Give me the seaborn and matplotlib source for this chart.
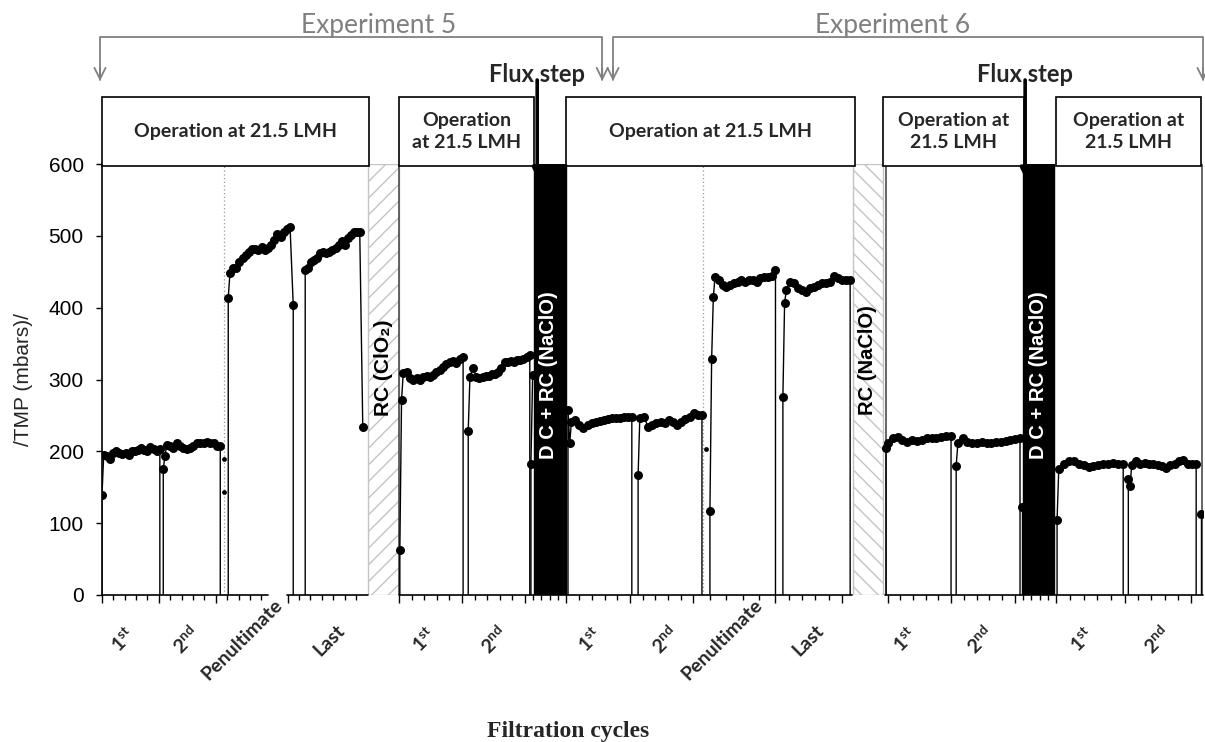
import numpy as np
import pandas as pd
import seaborn as sns
import matplotlib
matplotlib.use("Agg")
import matplotlib.pyplot as plt
from matplotlib.patches import Rectangle
import matplotlib.transforms as mtransforms

# ---------------- TMP readings (mbar) for each filtration cycle ----------------
# 0 = pump stopped (start / end of a cycle)
E5_C1 = [0, 139, 195, 193, 190, 197, 200, 197, 196, 198, 195, 200, 201, 202, 204, 202, 200, 206, 203, 200, 203, 0]
E5_C2 = [0, 176, 193, 209, 207, 204, 211, 207, 204, 203, 204, 207, 211, 212, 211, 213, 212, 211, 207, 207, 0]
E5_PEN = [0, 414, 448, 455, 455, 464, 469, 473, 478, 481, 481, 480, 485, 480, 483, 487, 494, 503, 499, 506, 510, 512, 404, 0]
E5_LAST = [0, 452, 455, 464, 466, 469, 476, 478, 476, 478, 480, 483, 487, 493, 487, 497, 501, 506, 506, 506, 234]
E5_C1B = [0, 63, 271, 309, 311, 302, 300, 302, 300, 304, 305, 303, 306, 310, 313, 318, 322, 325, 326, 323, 328, 331, 0]
E5_C2B = [0, 229, 304, 316, 304, 302, 304, 305, 305, 308, 308, 311, 316, 325, 325, 326, 325, 327, 327, 329, 331, 334, 0]
E5_STEP = [0, 183, 306]
E6_C1 = [0, 258, 211, 241, 244, 237, 232, 237, 239, 241, 242, 244, 245, 246, 246, 247, 248, 248, 248, 0]
E6_C2 = [0, 167, 246, 248, 234, 237, 239, 241, 240, 243, 241, 237, 241, 245, 248, 253, 251, 250, 0]
E6_PEN = [0, 117, 328, 415, 443, 439, 432, 429, 432, 434, 436, 439, 436, 439, 439, 436, 441, 443, 443, 444, 453, 0]
E6_LAST = [0, 276, 406, 425, 436, 434, 427, 425, 422, 427, 429, 432, 434, 434, 436, 444, 441, 439, 439, 439, 0]
E6_C1B = [0, 204, 211, 218, 220, 216, 213, 216, 215, 216, 218, 219, 219, 220, 221, 222, 0]
E6_C2B = [0, 180, 211, 219, 213, 211, 212, 213, 212, 212, 213, 213, 215, 216, 217, 219, 0]
E6_STEP = [0, 123]
E6_C1C = [0, 105, 176, 183, 186, 186, 183, 181, 178, 179, 181, 182, 183, 184, 182, 182, 0]
E6_C2C = [0, 161, 152, 181, 186, 183, 184, 183, 182, 181, 179, 177, 181, 182, 186, 188, 183, 182, 182, 0]
E6_END = [0, 113]

# isolated readings logged at the cycle changeover (dotted lines)
CHANGE_T = [21.5, 21.5, 106.0]
CHANGE_TMP = [190, 143, 203]

# cycle windows: (readings, start min, end min, start-up samples)
CYCLES = [
    (E5_C1, 0.05, 10.2, 1), (E5_C2, 10.8, 20.8, 2), (E5_PEN, 22.2, 33.6, 1),
    (E5_LAST, 35.7, 45.8, 0), (E5_C1B, 52.3, 63.4, 2), (E5_C2B, 64.3, 75.1, 1),
    (E5_STEP, 75.3, 75.8, 2), (E6_C1, 81.8, 93.0, 2), (E6_C2, 94.1, 105.3, 1),
    (E6_PEN, 106.7, 118.2, 3), (E6_LAST, 119.5, 131.3, 2), (E6_C1B, 137.6, 149.0, 1),
    (E6_C2B, 149.9, 161.1, 1), (E6_STEP, 161.5, 161.6, 1), (E6_C1C, 167.6, 179.2, 1),
    (E6_C2C, 180.1, 192.0, 2), (E6_END, 192.8, 193.0, 1),
]

# x-axis category labels
TICK_LABELS = [r"1$^{\mathbf{st}}$", r"2$^{\mathbf{nd}}$", "Penultimate", "Last",
               r"1$^{\mathbf{st}}$", r"2$^{\mathbf{nd}}$",
               r"1$^{\mathbf{st}}$", r"2$^{\mathbf{nd}}$", "Penultimate", "Last",
               r"1$^{\mathbf{st}}$", r"2$^{\mathbf{nd}}$",
               r"1$^{\mathbf{st}}$", r"2$^{\mathbf{nd}}$"]
TICK_LABEL_T = [3.8, 14.8, 24.6, 39.9, 56.6, 68.8, 85.7, 98.8, 108.8, 123.9, 140.9, 154.1, 172.0, 185.1]

# ---------------- build long table ----------------
rows = []
for cid, (vals, t0, t1, n_start) in enumerate(CYCLES):
    vals = list(vals)
    lead = vals[0] == 0
    trail = len(vals) > 1 and vals[-1] == 0
    body = vals[int(lead):len(vals) - int(trail)]
    step = 0.3
    t_start = [t0 + step * k for k in range(n_start)]
    n_plat = len(body) - n_start
    if n_plat > 0:
        p0 = t0 + step * n_start if n_start else t0
        t_plat = list(np.linspace(p0, t1, n_plat))
    else:
        t_plat = []
    ts = ([t0] if lead else []) + t_start + t_plat + ([t1] if trail else [])
    for t, v in zip(ts, vals):
        rows.append({"cycle": cid, "t": t, "tmp": v})
df = pd.DataFrame(rows)
changes = pd.DataFrame({"t": CHANGE_T, "tmp": CHANGE_TMP})

# ---------------- figure ----------------
sns.set_theme(style="white")
plt.rcParams["font.family"] = ["Liberation Sans", "DejaVu Sans"]
plt.rcParams["mathtext.fontset"] = "custom"
plt.rcParams["mathtext.rm"] = "Lato:bold"
plt.rcParams["mathtext.bf"] = "Lato:bold"
plt.rcParams["mathtext.it"] = "Lato:bold:italic"
plt.rcParams["hatch.linewidth"] = 1.0

W, H = 1205, 742
fig = plt.figure(figsize=(W / 100, H / 100), dpi=100)
x0px, x1px, y0px, y1px = 101.7, 1203.0, 595.0, 164.0
ax = fig.add_axes([x0px / W, (H - y0px) / H, (x1px - x0px) / W, (y0px - y1px) / H])
XMAX = 193.2
ax.set_xlim(0, XMAX)
ax.set_ylim(0, 600)
PX_PER_Y = (y0px - y1px) / 600.0


def ypx(p):
    """data value sitting at a given pixel row"""
    return (y0px - p) / PX_PER_Y


sns.lineplot(data=df, x="t", y="tmp", units="cycle", estimator=None, sort=False,
             color="black", lw=1.0, ax=ax, legend=False, zorder=3)
sns.scatterplot(data=df[df.tmp > 0], x="t", y="tmp", color="black", s=42,
                linewidth=0, ax=ax, legend=False, zorder=3)
sns.scatterplot(data=changes, x="t", y="tmp", color="black", s=12,
                linewidth=0, ax=ax, legend=False, zorder=3)

# cycle changeover markers
for t in (21.5, 105.5):
    ax.plot([t, t], [0, 600], ls=(0, (1, 2)), color="#999999", lw=0.9, zorder=2)

# recovery-clean windows (hatched) and flux-step windows (black)
GRAY = "#c4c4c4"
ax.add_patch(Rectangle((46.7, 0), 5.5, 600, facecolor="white", edgecolor=GRAY,
                       hatch="//", lw=1.0, zorder=2))
ax.add_patch(Rectangle((131.8, 0), 5.3, 600, facecolor="white", edgecolor=GRAY,
                       hatch="\\\\", lw=1.0, zorder=2))
for xa, xb in ((75.85, 81.46), (161.6, 167.1)):
    ax.add_patch(Rectangle((xa, 0), xb - xa, 600, facecolor="black", edgecolor="black",
                           lw=1.0, zorder=5))

# panel borders of the separate runs
for t in (52.2, 137.6, 193.0):
    ax.plot([t, t], [0, 600], color="#4d4d4d", lw=1.2, zorder=2)

# rotated cleaning labels
ax.text(49.35, 317, "RC (ClO₂)", rotation=90, ha="center", va="center",
        fontsize=15, fontweight="bold", color="black", zorder=6)
ax.text(134.4, 327, "RC (NaClO)", rotation=90, ha="center", va="center",
        fontsize=14.5, fontweight="bold", color="black", zorder=6)
for xc in (78.3, 164.3):
    ax.text(xc, 306, "D C + RC (NaClO)", rotation=90, ha="center", va="center",
            fontsize=14.5, fontweight="bold", color="white", zorder=6)

# ---------------- axes styling ----------------
for s in ("top", "right", "bottom"):
    ax.spines[s].set_visible(False)
ax.spines["left"].set_color("black")
ax.spines["left"].set_linewidth(1.2)
ax.set_yticks(range(0, 601, 100))
ax.tick_params(axis="y", direction="out", length=4, width=1.0, pad=9,
               labelsize=15, left=True, color="black", labelcolor="black")
ax.set_xlabel("")
ax.set_ylabel("")

# broken time axis
blend = mtransforms.blended_transform_factory(ax.transData, ax.transAxes)
segments = [(0, 29.2), (32.5, 46.7), (52.2, 131.6), (137.4, XMAX)]
for a, b in segments:
    ax.plot([a, b], [0, 0], color="black", lw=1.2, transform=blend, clip_on=False, zorder=4)
majors = [0, 10, 20, 32.6, 52.2, 63.2, 74.2, 81.5, 92.7, 103.8, 118.2, 129.9,
          137.9, 149.0, 160.2, 167.4, 179.5, 191.1]
minor = list(np.arange(2, 29, 2.0)) + list(np.arange(34.6, 46.5, 2.0))
for a, b in zip(majors[4:-1], majors[5:]):
    if a == 129.9:
        continue
    minor += list(np.linspace(a, b, 6)[1:-1])
ax.set_xticks(majors)
ax.set_xticks([m for m in minor if m not in majors], minor=True)
ax.set_xticklabels([])
ax.tick_params(axis="x", which="major", direction="out", length=6, width=1.0,
               bottom=True, color="black")
ax.tick_params(axis="x", which="minor", direction="out", length=3.5, width=1.0,
               bottom=True, color="black")

cyc_tr = mtransforms.blended_transform_factory(ax.transData, fig.transFigure)
for lab, t in zip(TICK_LABELS, TICK_LABEL_T):
    ax.text(t, (H - 640) / H, lab, transform=cyc_tr, rotation=45, ha="center", va="center",
            fontsize=14, fontweight="bold", family="Lato", rotation_mode="anchor")

ax.text(-0.071, 0.5, "/TMP (mbars)/", transform=ax.transAxes, rotation=90,
        ha="center", va="center", fontsize=15)
fig.text(568 / W, (H - 737) / H, "Filtration cycles", ha="center", va="baseline",
         fontsize=17, fontweight="bold", family="Liberation Serif")

# ---------------- operation boxes above the plot ----------------
box_lo, box_hi = ypx(166), ypx(97)
boxes = [(0.05, 46.9, "Operation at 21.5 LMH"), (52.2, 75.9, "Operation\nat 21.5 LMH"),
         (81.5, 132.2, "Operation at 21.5 LMH"), (137.1, 161.8, "Operation at\n21.5 LMH"),
         (167.4, 192.9, "Operation at\n21.5 LMH")]
for a, b, txt in boxes:
    ax.add_patch(Rectangle((a, box_lo), b - a, box_hi - box_lo, facecolor="white",
                           edgecolor="black", lw=1.2, clip_on=False, zorder=4))
    ax.text((a + b) / 2, (box_lo + box_hi) / 2, txt, ha="center", va="center",
            fontsize=14, fontweight="bold", family="Lato", linespacing=1.3, zorder=5)

# flux-step pointers
for t in (76.4, 162.0):
    ax.annotate("", xy=(t, ypx(178)), xytext=(t, ypx(80)),
                arrowprops=dict(arrowstyle="-|>", color="black", lw=2.6,
                                mutation_scale=14, shrinkA=0, shrinkB=0),
                annotation_clip=False, zorder=4)
    ax.text(t, ypx(82), "Flux step", ha="center", va="baseline", fontsize=17,
            fontweight="bold", family="Lato", zorder=6)

# experiment brackets
BRK = "#808080"
for a, b, xc, name in ((-0.3, 87.8, 48.5, "Experiment 5"), (89.7, 193.2, 138.8, "Experiment 6")):
    ax.plot([a, a, b, b], [ypx(80), ypx(37), ypx(37), ypx(80)], color=BRK, lw=1.3,
            clip_on=False, zorder=4)
    for xe in (a, b):
        ax.annotate("", xy=(xe, ypx(81)), xytext=(xe, ypx(68)),
                    arrowprops=dict(arrowstyle="->", color=BRK, lw=1.3,
                                    mutation_scale=20, shrinkA=0, shrinkB=0),
                    annotation_clip=False)
    ax.text(xc, ypx(33), name, ha="center", va="baseline", fontsize=19,
            family="Lato", color=BRK)

fig.savefig("out.png", dpi=100, facecolor="white")
